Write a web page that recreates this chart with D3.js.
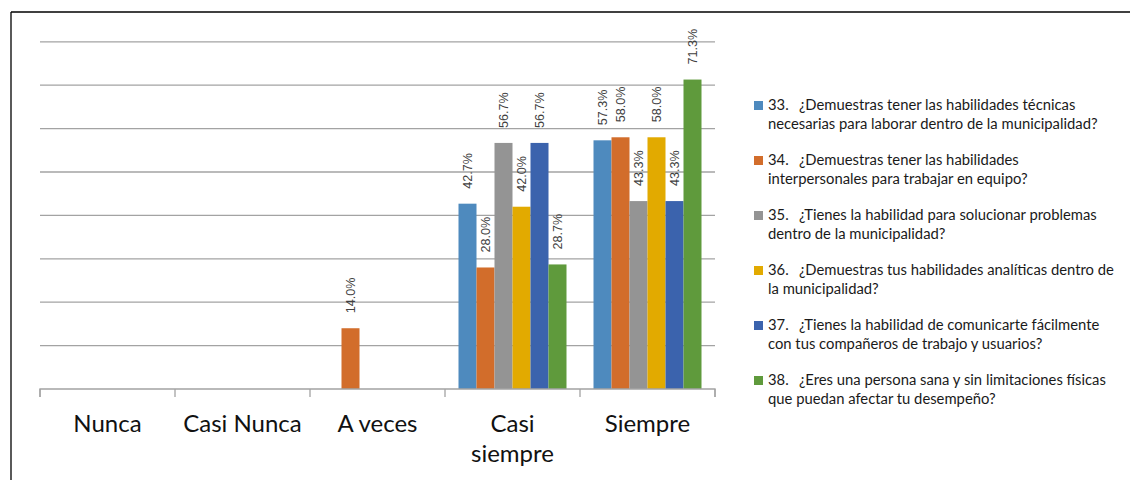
<!DOCTYPE html>
<html><head><meta charset="utf-8">
<script src="https://cdn.jsdelivr.net/npm/d3@7"></script>
<style>body{margin:0;background:#fff;} svg{display:block;}</style>
</head><body>
<svg id="c" width="1130" height="480"></svg>
<script>
const categories = ["Nunca", "Casi Nunca", "A veces", "Casi siempre", "Siempre"];
const seriesNames = [
  ["33.", "¿Demuestras tener las habilidades técnicas", "necesarias para laborar dentro de la municipalidad?"],
  ["34.", "¿Demuestras tener las habilidades", "interpersonales para trabajar en equipo?"],
  ["35.", "¿Tienes la habilidad para solucionar problemas", "dentro de la municipalidad?"],
  ["36.", "¿Demuestras tus habilidades analíticas dentro de", "la municipalidad?"],
  ["37.", "¿Tienes la habilidad de comunicarte fácilmente", "con tus compañeros de trabajo y usuarios?"],
  ["38.", "¿Eres una persona sana y sin limitaciones físicas", "que puedan afectar tu desempeño?"]
];
const s33 = [null, null, null, 42.7, 57.3];
const s34 = [null, null, 14.0, 28.0, 58.0];
const s35 = [null, null, null, 56.7, 43.3];
const s36 = [null, null, null, 42.0, 58.0];
const s37 = [null, null, null, 56.7, 43.3];
const s38 = [null, null, null, 28.7, 71.3];
const seriesValues = [s33, s34, s35, s36, s37, s38];
const colors = ["#4E8ABE", "#D26D2B", "#949494", "#E2AA00", "#3B63AD", "#5F9A3C"];
const gridTicks = [10, 20, 30, 40, 50, 60, 70, 80];

const svg = d3.select("#c");
// outer border
svg.append("line").attr("x1", 11).attr("x2", 1130).attr("y1", 12).attr("y2", 12).attr("stroke", "#000").attr("stroke-width", 1.3);
svg.append("line").attr("x1", 11).attr("x2", 11).attr("y1", 12).attr("y2", 480).attr("stroke", "#000").attr("stroke-width", 1.3);

const x0 = d3.scaleBand().domain(categories).range([40, 715]).padding(0);
const x1 = d3.scaleBand().domain(d3.range(6)).range([x0.bandwidth() * 0.1, x0.bandwidth() * 0.9]).padding(0);
const y = d3.scaleLinear().domain([0, 80]).range([389, 41.8]);

// gridlines
svg.append("g").selectAll("line").data(gridTicks).join("line")
  .attr("x1", 40).attr("x2", 715)
  .attr("y1", d => y(d)).attr("y2", d => y(d))
  .attr("stroke", "#a3a3a3").attr("stroke-width", 1.3);

// bars
const bars = [];
seriesValues.forEach((arr, si) => arr.forEach((v, ci) => { if (v != null) bars.push({si, ci, v}); }));
svg.append("g").selectAll("rect").data(bars).join("rect")
  .attr("x", d => x0(categories[d.ci]) + x1(d.si))
  .attr("width", x1.bandwidth())
  .attr("y", d => y(d.v))
  .attr("height", d => y(0) - y(d.v))
  .attr("fill", d => colors[d.si]);

// labels
svg.append("g").selectAll("text").data(bars).join("text")
  .attr("transform", d => `translate(${x0(categories[d.ci]) + x1(d.si) + x1.bandwidth() / 2 + 4.5},${y(d.v) - 15}) rotate(-90)`)
  .attr("text-anchor", "start")
  .attr("font-family", "Liberation Sans, Arial, sans-serif")
  .attr("font-size", 12.6)
  .attr("fill", "#404040")
  .text(d => d.v.toFixed(1) + "%");

// x axis
const xAxis = d3.axisBottom(x0).tickSize(8).tickFormat("");
const ag = svg.append("g").attr("transform", `translate(0,389)`).call(xAxis);
ag.select(".domain").attr("stroke", "#a3a3a3").attr("stroke-width", 1.3).attr("d", "M40,8V0H715V8");
ag.selectAll(".tick").remove();
const edges = d3.range(categories.length + 1).map(i => 40 + i * x0.bandwidth());
ag.selectAll(".edge").data(edges).join("line").attr("class", "edge")
  .attr("x1", d => d).attr("x2", d => d).attr("y1", 0).attr("y2", 8)
  .attr("stroke", "#a3a3a3").attr("stroke-width", 1.3);

const catLines = {"Casi siempre": ["Casi", "siempre"]};
categories.forEach(c => {
  const lines = catLines[c] || [c];
  lines.forEach((ln, i) => {
    svg.append("text")
      .attr("x", x0(c) + x0.bandwidth() / 2)
      .attr("y", 432 + i * 30)
      .attr("text-anchor", "middle")
      .attr("font-family", "Lato, sans-serif")
      .attr("font-size", 24)
      .attr("fill", "#111")
      .text(ln);
  });
});

// legend
const lg = svg.append("g");
seriesNames.forEach((s, i) => {
  const by = 110 + i * 55;
  lg.append("rect").attr("x", 754).attr("y", by - 9).attr("width", 9).attr("height", 9).attr("fill", colors[i]);
  const f = t => t.attr("font-family", "Lato, sans-serif").attr("font-size", 14.8).attr("fill", "#1a1a1a");
  lg.append("text").attr("x", 768).attr("y", by).text(s[0]).call(f);
  lg.append("text").attr("x", 799).attr("y", by).text(s[1]).call(f);
  lg.append("text").attr("x", 768).attr("y", by + 19.3).text(s[2]).call(f);
});
</script>
</body></html>
